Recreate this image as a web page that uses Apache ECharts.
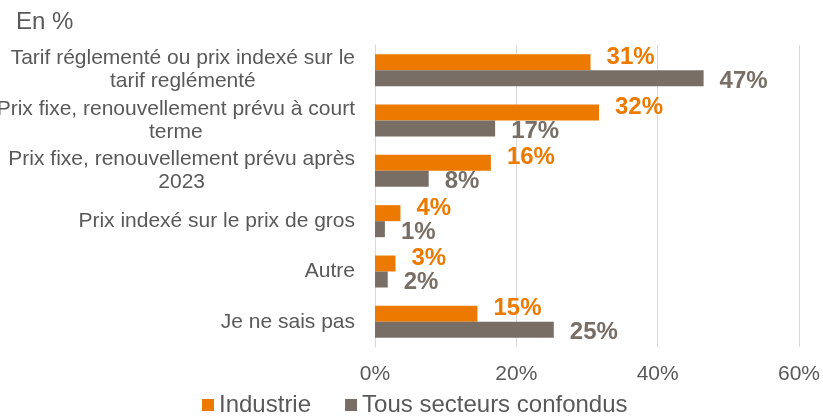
<!DOCTYPE html>
<html>
<head>
<meta charset="utf-8">
<script src="https://cdn.jsdelivr.net/npm/echarts@6/dist/echarts.min.js"></script>
<style>
html,body{margin:0;padding:0;background:#fff;}
#chart{width:823px;height:416px;}
</style>
</head>
<body>
<div id="chart"></div>
<script>
const categories = [
  "Tarif réglementé ou prix indexé sur le\ntarif reglémenté",
  "Prix fixe, renouvellement prévu à court\nterme",
  "Prix fixe, renouvellement prévu après\n2023",
  "Prix indexé sur le prix de gros",
  "Autre",
  "Je ne sais pas"
];
const seriesNames = ["Industrie", "Tous secteurs confondus"];
const industrie = [30.5, 31.7, 16.4, 3.6, 2.9, 14.5];
const tousSecteurs = [46.5, 17.0, 7.6, 1.4, 1.8, 25.3];
const industrieLabels = ["31%", "32%", "16%", "4%", "3%", "15%"];
const tousSecteursLabels = ["47%", "17%", "8%", "1%", "2%", "25%"];
const xTicks = [0, 20, 40, 60];

const ORANGE = '#EC7A00';
const GREY = '#786E65';
const TEXT = '#595959';
const FONT = '"Liberation Sans", Arial, sans-serif';

const chart = echarts.init(document.getElementById('chart'), null, {renderer: 'canvas'});
chart.setOption({
  animation: false,
  backgroundColor: '#fff',
  textStyle: {fontFamily: FONT},
  title: {
    text: 'En %',
    left: 11, top: 5,
    textStyle: {fontSize: 24, fontWeight: 'normal', color: TEXT, fontFamily: FONT}
  },
  legend: {
    data: seriesNames,
    left: 197,
    top: 388,
    icon: 'rect',
    itemWidth: 12, itemHeight: 12,
    itemGap: 34,
    itemStyle: {borderWidth: 0},
    textStyle: {fontSize: 24, color: TEXT, fontFamily: FONT}
  },
  grid: {left: 375, right: 24, top: 45, bottom: 69, containLabel: false, outerBoundsMode: 'none'},
  xAxis: {
    type: 'value',
    min: xTicks[0], max: xTicks[xTicks.length - 1], interval: 20,
    axisLine: {show: false},
    axisTick: {show: false},
    axisLabel: {formatter: '{value}%', fontSize: 21, color: TEXT, margin: 17, fontFamily: FONT},
    splitLine: {show: true, lineStyle: {color: '#D9D9D9', width: 1}}
  },
  yAxis: {
    type: 'category',
    data: categories,
    inverse: true,
    axisLine: {show: true, lineStyle: {color: '#D9D9D9', width: 1}},
    axisTick: {show: false},
    axisLabel: {
      margin: 20,
      color: TEXT,
      fontSize: 21,
      lineHeight: 23,
      fontFamily: FONT,
      formatter: function (v) {
        return v.split('\n').map(function (l) { return '{c|' + l + '}'; }).join('\n');
      },
      rich: {c: {align: 'center', fontSize: 21, lineHeight: 23, color: TEXT, fontFamily: FONT}}
    }
  },
  series: [
    {
      name: seriesNames[0],
      type: 'bar',
      data: industrie,
      barWidth: 16,
      barGap: '0%',
      z: 2,
      itemStyle: {color: ORANGE},
      label: {
        show: true, position: 'right', distance: 16, offset: [0, -5],
        formatter: function (p) { return industrieLabels[p.dataIndex]; },
        color: ORANGE, fontSize: 24, fontWeight: 'bold', fontFamily: FONT
      }
    },
    {
      name: seriesNames[1],
      type: 'bar',
      data: tousSecteurs,
      barWidth: 16,
      barGap: '0%',
      z: 3,
      itemStyle: {color: GREY},
      label: {
        show: true, position: 'right', distance: 16, offset: [0, 3],
        formatter: function (p) { return tousSecteursLabels[p.dataIndex]; },
        color: GREY, fontSize: 24, fontWeight: 'bold', fontFamily: FONT
      }
    }
  ]
});
</script>
</body>
</html>
